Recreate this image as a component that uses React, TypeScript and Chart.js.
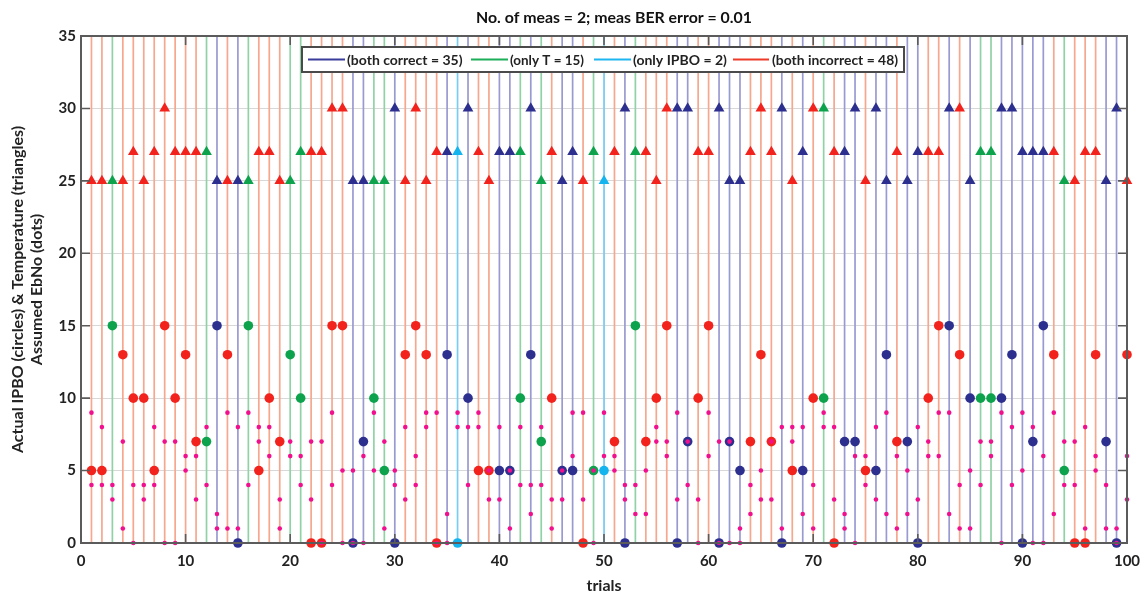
import React, { useEffect, useRef } from "react";
import { Chart, registerables } from "chart.js";

Chart.register(...registerables);

// ---- data ----
const trials = [
  1, 2, 3, 4, 5, 6, 7, 8, 9, 10,
  11, 12, 13, 14, 15, 16, 17, 18, 19, 20,
  21, 22, 23, 24, 25, 26, 27, 28, 29, 30,
  31, 32, 33, 34, 35, 36, 37, 38, 39, 40,
  41, 42, 43, 44, 45, 46, 47, 48, 49, 50,
  51, 52, 53, 54, 55, 56, 57, 58, 59, 60,
  61, 62, 63, 64, 65, 66, 67, 68, 69, 70,
  71, 72, 73, 74, 75, 76, 77, 78, 79, 80,
  81, 82, 83, 84, 85, 86, 87, 88, 89, 90,
  91, 92, 93, 94, 95, 96, 97, 98, 99, 100,
];

// 0 = both correct, 1 = only T, 2 = only IPBO, 3 = both incorrect
const outcome = [
  3, 3, 1, 3, 3, 3, 3, 3, 3, 3,
  3, 1, 0, 3, 0, 1, 3, 3, 3, 1,
  1, 3, 3, 3, 3, 0, 0, 1, 1, 0,
  3, 3, 3, 3, 0, 2, 0, 3, 3, 0,
  0, 1, 0, 1, 3, 0, 0, 3, 1, 2,
  3, 0, 1, 3, 3, 3, 0, 0, 3, 3,
  0, 0, 0, 3, 3, 3, 0, 3, 0, 3,
  1, 3, 0, 0, 3, 0, 0, 3, 0, 0,
  3, 3, 0, 3, 0, 1, 1, 0, 0, 0,
  0, 0, 3, 1, 3, 3, 3, 0, 0, 3,
];

const temperature = [
  25, 25, 25, 25, 27, 25, 27, 30, 27, 27,
  27, 27, 25, 25, 25, 25, 27, 27, 25, 25,
  27, 27, 27, 30, 30, 25, 25, 25, 25, 30,
  25, 30, 25, 27, 27, 27, 30, 27, 25, 27,
  27, 27, 30, 25, 27, 25, 27, 25, 27, 25,
  27, 30, 27, 27, 25, 30, 30, 30, 27, 27,
  30, 25, 25, 27, 30, 27, 30, 25, 27, 30,
  30, 27, 27, 30, 25, 30, 25, 27, 25, 27,
  27, 27, 30, 30, 25, 27, 27, 30, 30, 27,
  27, 27, 27, 25, 25, 27, 27, 25, 30, 25,
];

const ipbo = [
  5, 5, 15, 13, 10, 10, 5, 15, 10, 13,
  7, 7, 15, 13, 0, 15, 5, 10, 7, 13,
  10, 0, 0, 15, 15, 0, 7, 10, 5, 0,
  13, 15, 13, 0, 13, 0, 10, 5, 5, 5,
  5, 10, 13, 7, 10, 5, 5, 0, 5, 5,
  7, 0, 15, 7, 10, 15, 0, 7, 10, 15,
  0, 7, 5, 7, 13, 7, 0, 5, 5, 10,
  10, 0, 7, 7, 5, 5, 13, 7, 7, 0,
  10, 15, 15, 13, 10, 10, 10, 10, 13, 0,
  7, 15, 13, 5, 0, 0, 13, 7, 0, 13,
];

const ebnoA = [
  9, 8, 4, 7, 4, 4, 8, 7, 7, 6,
  6, 8, 2, 9, 8, 9, 8, 8, 3, 7,
  6, 7, 7, 9, 5, 5, 6, 9, 7, 5,
  8, 6, 9, 9, 2, 9, 8, 9, 3, 8,
  5, 8, 4, 8, 3, 5, 9, 9, 5, 9,
  6, 4, 4, 5, 8, 7, 9, 7, 3, 9,
  7, 0, 1, 4, 5, 7, 8, 8, 8, 4,
  9, 8, 2, 6, 6, 8, 9, 6, 5, 8,
  7, 9, 9, 4, 5, 7, 7, 9, 8, 9,
  8, 6, 9, 7, 7, 8, 6, 4, 1, 6,
];

const ebnoB = [
  4, 4, 3, 1, 0, 3, 4, 0, 0, 5,
  3, 4, 1, 1, 1, 4, 7, 6, 1, 6,
  4, 3, 0, 4, 0, 0, 0, 5, 1, 4,
  3, 4, 8, 0, 0, 8, 4, 8, 5, 3,
  1, 4, 2, 4, 1, 3, 6, 3, 0, 6,
  5, 3, 2, 2, 7, 6, 3, 4, 0, 6,
  0, 7, 0, 2, 3, 3, 1, 7, 2, 1,
  8, 3, 1, 0, 4, 3, 2, 1, 2, 3,
  6, 6, 2, 1, 1, 4, 6, 0, 4, 5,
  0, 0, 2, 4, 4, 1, 5, 1, 0, 3,
];

const categoryNames = ["both correct", "only T", "only IPBO", "both incorrect"];
const categoryCounts = [35, 15, 2, 48];
const yTicks = [0, 5, 10, 15, 20, 25, 30, 35];
const xTicks = [0, 10, 20, 30, 40, 50, 60, 70, 80, 90, 100];

const titleText = "No. of meas = 2; meas BER error = 0.01";
const yTitleLines = ["Actual IPBO (circles) & Temperature (triangles)", "Assumed EbNo (dots)"];
const xTitleText = "trials";

// ---- styles ----
const markerColors = ["#2c2f8e", "#0ca34c", "#14b4ee", "#f2231d"];
const stemColors = ["#9a9ad2", "#90d2a6", "#78cdf3", "#f6a78e"];
const legendLineColors = ["#3a3c9c", "#1cae58", "#1eb6f0", "#ef3a2a"];
const dotColor = "#f0108e";
const FONT = "Lato, 'Open Sans', 'DejaVu Sans', sans-serif";

const overlayPlugin = {
  id: "overlay",
  afterDraw(chart: any) {
    const ctx = chart.ctx;
    const ca = chart.chartArea;
    const xs = chart.scales.x;
    const ys = chart.scales.y;
    ctx.save();
    // axes box
    ctx.strokeStyle = "#5b5b5b";
    ctx.lineWidth = 2;
    ctx.strokeRect(ca.left, ca.top, ca.right - ca.left, ca.bottom - ca.top);
    // inward ticks
    ctx.lineWidth = 1.6;
    const tl = 9;
    yTicks.forEach((v) => {
      const py = ys.getPixelForValue(v);
      ctx.beginPath();
      ctx.moveTo(ca.left, py);
      ctx.lineTo(ca.left + tl, py);
      ctx.moveTo(ca.right, py);
      ctx.lineTo(ca.right - tl, py);
      ctx.stroke();
    });
    xTicks.forEach((v) => {
      const px = xs.getPixelForValue(v);
      ctx.beginPath();
      ctx.moveTo(px, ca.bottom);
      ctx.lineTo(px, ca.bottom - tl);
      ctx.moveTo(px, ca.top);
      ctx.lineTo(px, ca.top + tl);
      ctx.stroke();
    });

    // title
    ctx.fillStyle = "#111";
    ctx.textAlign = "center";
    ctx.textBaseline = "middle";
    ctx.font = `bold 16px ${FONT}`;
    ctx.fillText(titleText, 614, 18, 276);

    // x title
    ctx.font = `bold 16px ${FONT}`;
    ctx.fillStyle = "#222";
    ctx.fillText(xTitleText, (ca.left + ca.right) / 2, 586, 44);

    // y title
    const cy = (ca.top + ca.bottom) / 2;
    ctx.save();
    ctx.translate(18, cy);
    ctx.rotate(-Math.PI / 2);
    ctx.font = `bold 16px ${FONT}`;
    ctx.fillText(yTitleLines[0], 0, 0, 406);
    ctx.restore();
    ctx.save();
    ctx.translate(37, cy);
    ctx.rotate(-Math.PI / 2);
    ctx.font = `bold 16px ${FONT}`;
    ctx.fillText(yTitleLines[1], 0, 0, 183);
    ctx.restore();

    // legend
    const lx = 302, ly = 47, lw = 602, lh = 25;
    ctx.fillStyle = "#ffffff";
    ctx.fillRect(lx, ly, lw, lh);
    ctx.strokeStyle = "#4a4a4a";
    ctx.lineWidth = 2;
    ctx.strokeRect(lx, ly, lw, lh);
    const items = [
      [308, 345, 347, 116],
      [471, 508, 510, 74],
      [594, 631, 633, 94],
      [733, 769, 772, 126],
    ];
    const my = ly + lh / 2;
    ctx.font = `bold 14px ${FONT}`;
    ctx.textAlign = "left";
    items.forEach((it, i) => {
      ctx.strokeStyle = legendLineColors[i];
      ctx.lineWidth = 2;
      ctx.beginPath();
      ctx.moveTo(it[0], my);
      ctx.lineTo(it[1], my);
      ctx.stroke();
      ctx.fillStyle = "#222";
      ctx.fillText(`(${categoryNames[i]} = ${categoryCounts[i]})`, it[2], my + 1, it[3]);
    });
    ctx.restore();
  },
};

export default function App() {
  const ref = useRef<HTMLCanvasElement | null>(null);

  useEffect(() => {
    document.body.style.margin = "0";
    const canvas = ref.current;
    if (!canvas) return;
    const yMax = yTicks[yTicks.length - 1];
    const datasets: any[] = [];

    // vertical stems per category
    categoryNames.forEach((name, c) => {
      const pts: any[] = [];
      trials.forEach((t, i) => {
        if (outcome[i] === c) {
          pts.push({ x: t, y: yTicks[0] });
          pts.push({ x: t, y: yMax });
          pts.push({ x: t, y: null });
        }
      });
      datasets.push({
        label: name + " stems",
        data: pts,
        showLine: true,
        spanGaps: false,
        borderColor: stemColors[c],
        borderWidth: 1.7,
        pointRadius: 0,
        order: 10,
      });
    });

    // triangles (temperature) and circles (ipbo)
    categoryNames.forEach((name, c) => {
      const tri: any[] = [];
      const cir: any[] = [];
      trials.forEach((t, i) => {
        if (outcome[i] === c) {
          tri.push({ x: t, y: temperature[i] });
          cir.push({ x: t, y: ipbo[i] });
        }
      });
      datasets.push({
        label: name + " T",
        data: tri,
        pointStyle: "triangle",
        pointRadius: 6.2,
        backgroundColor: markerColors[c],
        borderColor: markerColors[c],
        borderWidth: 0,
        clip: false,
        order: 3,
      });
      datasets.push({
        label: name + " IPBO",
        data: cir,
        pointStyle: "circle",
        pointRadius: 4.8,
        backgroundColor: markerColors[c],
        borderColor: markerColors[c],
        borderWidth: 0,
        clip: false,
        order: 2,
      });
    });

    // EbNo dots
    [ebnoA, ebnoB].forEach((arr, k) => {
      datasets.push({
        label: "EbNo " + (k + 1),
        data: trials.map((t, i) => ({ x: t, y: arr[i] })),
        pointStyle: "circle",
        pointRadius: 2.3,
        backgroundColor: dotColor,
        borderColor: dotColor,
        borderWidth: 0,
        clip: false,
        order: 0,
      });
    });

    const tickFont = { family: FONT, size: 15, weight: "bold" as const };

    const chart = new Chart(canvas, {
      type: "scatter",
      data: { datasets },
      plugins: [overlayPlugin],
      options: {
        animation: false,
        responsive: false,
        maintainAspectRatio: false,
        devicePixelRatio: 1,
        events: [],
        layout: { padding: { left: 0, right: 17, top: 36, bottom: 0 } },
        plugins: {
          legend: { display: false },
          title: { display: false },
          tooltip: { enabled: false },
        },
        scales: {
          x: {
            type: "linear",
            min: xTicks[0],
            max: xTicks[xTicks.length - 1],
            afterBuildTicks: (s: any) => {
              s.ticks = xTicks.map((v) => ({ value: v }));
            },
            ticks: { font: tickFont, color: "#222", padding: 9, maxRotation: 0, autoSkip: false },
            grid: { color: "#d8d8d8", lineWidth: 1, drawTicks: false },
            border: { display: false },
            afterFit: (s: any) => {
              s.height = 54;
              s.paddingLeft = 0;
              s.paddingRight = 0;
            },
          },
          y: {
            type: "linear",
            min: yTicks[0],
            max: yTicks[yTicks.length - 1],
            afterBuildTicks: (s: any) => {
              s.ticks = yTicks.map((v) => ({ value: v }));
            },
            ticks: { font: tickFont, color: "#222", padding: 5, autoSkip: false },
            grid: { color: "#d8d8d8", lineWidth: 1, drawTicks: false },
            border: { display: false },
            afterFit: (s: any) => {
              s.width = 81;
              s.paddingTop = 0;
              s.paddingBottom = 0;
            },
          },
        },
      },
    });
    return () => chart.destroy();
  }, []);

  return (
    <div style={{ width: 1144, height: 597, background: "#fff" }}>
      <canvas ref={ref} width={1144} height={597} style={{ display: "block" }} />
    </div>
  );
}
